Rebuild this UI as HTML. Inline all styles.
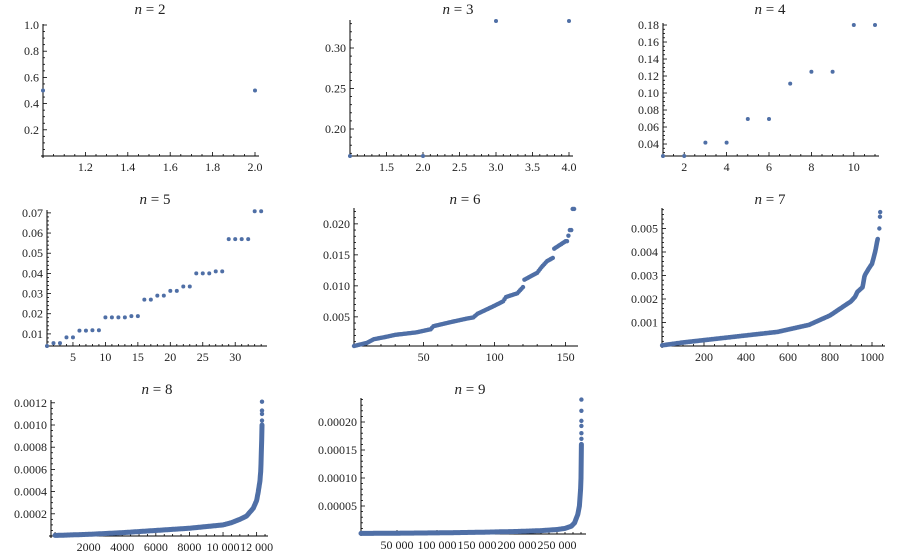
<!DOCTYPE html>
<html><head><meta charset="utf-8"><style>
html,body{margin:0;padding:0;background:#fff;}
svg{display:block;}
</style></head><body>
<svg id="s" width="900" height="557" xmlns="http://www.w3.org/2000/svg" font-family="Liberation Serif, Times New Roman, serif"></svg>
<script>
const S=document.getElementById('s');let h='';
const C='#4f6fa6';
const F='font-family="Liberation Serif, serif" fill="#222"';
function interp(pts,x){for(let i=0;i<pts.length-1;i++){if(x<=pts[i+1][0]){const a=pts[i],b=pts[i+1];const t=(x-a[0])/(b[0]-a[0]);return a[1]+t*(b[1]-a[1]);}}return pts[pts.length-1][1];}
function panel(p){
 const X=v=>p.ox+(v-p.xmin)*p.xs, Y=v=>p.by-(v-p.ymin)*p.ys;
 h+=`<text ${F} x="${p.tx}" y="${p.ty}" font-size="15" text-anchor="middle"><tspan font-style="italic">n</tspan> = ${p.n}</text>`;
 h+=`<line x1="${p.ox-2}" y1="${p.by}" x2="${p.xend}" y2="${p.by}" stroke="#000" stroke-width="1"/>`;
 h+=`<line x1="${p.ox}" y1="${p.by+2}" x2="${p.ox}" y2="${p.ytop}" stroke="#000" stroke-width="1"/>`;
 const xm=p.xstep/p.xminor;
 for(let v=Math.ceil(p.xmin/xm)*xm;X(v)<=p.xend;v+=xm){const px=X(v);if(px<p.ox+1)continue;
   const major=Math.abs(v/p.xstep-Math.round(v/p.xstep))<1e-6;
   h+=`<line x1="${px}" y1="${p.by}" x2="${px}" y2="${p.by-(major?4:2)}" stroke="#000" stroke-width="0.8"/>`;}
 p.xl.forEach(l=>{h+=`<text ${F} x="${X(l[0])}" y="${p.by+15}" font-size="12" text-anchor="middle">${l[1]}</text>`;});
 const ym=p.ystep/p.yminor;
 for(let v=Math.ceil(p.ymin/ym)*ym;Y(v)>=p.ytop;v+=ym){const py=Y(v);if(py>p.by-1)continue;
   const major=Math.abs(v/p.ystep-Math.round(v/p.ystep))<1e-6;
   h+=`<line x1="${p.ox}" y1="${py}" x2="${p.ox+(major?4:2)}" y2="${py}" stroke="#000" stroke-width="0.8"/>`;}
 p.yl.forEach(l=>{h+=`<text ${F} x="${p.ox-4}" y="${Y(l[0])+4}" font-size="12" text-anchor="end">${l[1]}</text>`;});
 if(p.curve){let d='';for(let i=p.curve[0][0];i<=p.cmax;i+=p.cstep){d+=(d?'L':'M')+X(i).toFixed(1)+','+Y(interp(p.curve,i)).toFixed(1);}
   h+=`<path d="${d}" fill="none" stroke="${C}" stroke-width="${p.cw}" stroke-linecap="round" stroke-linejoin="round"/>`;}
 if(p.pts){p.pts.forEach(q=>{h+=`<circle cx="${X(q[0])}" cy="${Y(q[1])}" r="${p.r||2}" fill="${C}"/>`;});}
}
panel({n:2,tx:150,ty:14,ox:43,by:156,xmin:1,xs:212,ymin:0,ys:131,xend:259,ytop:24,xstep:0.2,xminor:4,ystep:0.2,yminor:4,
 xl:[[1.2,'1.2'],[1.4,'1.4'],[1.6,'1.6'],[1.8,'1.8'],[2,'2.0']],yl:[[0.2,'0.2'],[0.4,'0.4'],[0.6,'0.6'],[0.8,'0.8'],[1,'1.0']],
 pts:[[1,0.5],[2,0.5]]});
panel({n:3,tx:458,ty:14,ox:350,by:156,xmin:1,xs:73,ymin:1/6,ys:810,xend:573,ytop:20,xstep:0.5,xminor:5,ystep:0.05,yminor:5,
 xl:[[1.5,'1.5'],[2,'2.0'],[2.5,'2.5'],[3,'3.0'],[3.5,'3.5'],[4,'4.0']],yl:[[0.2,'0.20'],[0.25,'0.25'],[0.3,'0.30']],
 pts:[[1,1/6],[2,1/6],[3,1/3],[4,1/3]]});
panel({n:4,tx:770,ty:14,ox:663,by:156,xmin:1,xs:21.2,ymin:0.0259,ys:850,xend:879,ytop:23,xstep:2,xminor:4,ystep:0.02,yminor:4,
 xl:[[2,'2'],[4,'4'],[6,'6'],[8,'8'],[10,'10']],yl:[[0.04,'0.04'],[0.06,'0.06'],[0.08,'0.08'],[0.1,'0.10'],[0.12,'0.12'],[0.14,'0.14'],[0.16,'0.16'],[0.18,'0.18']],
 pts:[[1,0.0259],[2,0.0259],[3,0.0417],[4,0.0417],[5,0.0694],[6,0.0694],[7,0.111],[8,0.125],[9,0.125],[10,0.18],[11,0.18]]});
const v5=[0.004,0.0054,0.0054,0.0083,0.0083,0.0116,0.0116,0.0118,0.0118,0.0182,0.0182,0.0182,0.0182,0.0188,0.0188,0.027,0.027,0.029,0.029,0.0313,0.0313,0.0335,0.0335,0.040,0.040,0.040,0.041,0.041,0.057,0.057,0.057,0.057,0.0708,0.0708];
panel({n:5,tx:155,ty:204,ox:47,by:346,xmin:1,xs:6.49,ymin:0.004,ys:2017,xend:267,ytop:210,xstep:5,xminor:5,ystep:0.01,yminor:5,
 xl:[[5,'5'],[10,'10'],[15,'15'],[20,'20'],[25,'25'],[30,'30']],yl:[[0.01,'0.01'],[0.02,'0.02'],[0.03,'0.03'],[0.04,'0.04'],[0.05,'0.05'],[0.06,'0.06'],[0.07,'0.07']],
 pts:v5.map((v,i)=>[i+1,v])});
const c6=[[1,0.0003],[10,0.0008],[15,0.0014],[22,0.0017],[30,0.0021],[45,0.0025],[55,0.0030],[57,0.0035],[70,0.0042],[80,0.0047],[85,0.0049],[88,0.0055],[100,0.0068],[106,0.0075],[108,0.0082],[116,0.0088],[120,0.0098],[121,0.011],[130,0.0121],[133,0.013],[137,0.014],[141,0.0145],[142,0.016],[150,0.0172],[151,0.0172],[153,0.019],[154,0.019],[155,0.0224],[156,0.0224]];
const p6=[];for(let i=1;i<=156;i++)p6.push([i,interp(c6,i)]);
panel({n:6,tx:465,ty:204,ox:354,by:346,xmin:1,xs:1.42,ymin:0.0003,ys:6200,xend:578,ytop:208,xstep:50,xminor:5,ystep:0.005,yminor:5,
 xl:[[50,'50'],[100,'100'],[150,'150']],yl:[[0.005,'0.005'],[0.01,'0.010'],[0.015,'0.015'],[0.02,'0.020']],pts:p6,r:2.2});
const c7=[[1,0.00003],[100,0.00015],[200,0.00025],[300,0.00035],[400,0.00045],[500,0.00055],[550,0.0006],[600,0.0007],[650,0.0008],[700,0.0009],[750,0.0011],[800,0.0013],[850,0.0016],[900,0.0019],[920,0.0021],[930,0.0023],[955,0.0025],[965,0.003],[985,0.0033],[1000,0.0035],[1015,0.004],[1028,0.0046]];
panel({n:7,tx:770,ty:204,ox:662,by:346,xmin:0,xs:0.21,ymin:0,ys:23500,xend:885,ytop:208,xstep:200,xminor:4,ystep:0.001,yminor:5,
 xl:[[200,'200'],[400,'400'],[600,'600'],[800,'800'],[1000,'1000']],yl:[[0.001,'0.001'],[0.002,'0.002'],[0.003,'0.003'],[0.004,'0.004'],[0.005,'0.005']],
 curve:c7,cmax:1028,cstep:3,cw:4.6,pts:[[1035,0.005],[1038,0.0055],[1039,0.0057]],r:2.2});
const c8=[[0,0.000005],[2000,0.000015],[4000,0.00003],[6000,0.00005],[8000,0.00007],[9000,0.000085],[10000,0.0001],[10500,0.00012],[11000,0.00015],[11400,0.00018],[11800,0.00025],[12000,0.00032],[12100,0.0004],[12200,0.0005],[12250,0.0006],[12290,0.0008],[12320,0.001]];
panel({n:8,tx:157,ty:394,ox:51,by:536,xmin:-240,xs:0.0168,ymin:0,ys:111000,xend:268,ytop:400,xstep:2000,xminor:4,ystep:0.0002,yminor:4,
 xl:[[2000,'2000'],[4000,'4000'],[6000,'6000'],[8000,'8000'],[10000,'10 000'],[12000,'12 000']],yl:[[0.0002,'0.0002'],[0.0004,'0.0004'],[0.0006,'0.0006'],[0.0008,'0.0008'],[0.001,'0.0010'],[0.0012,'0.0012']],
 curve:c8,cmax:12320,cstep:20,cw:5,pts:[[12320,0.00104],[12320,0.0011],[12320,0.00113],[12320,0.00121]],r:2.2});
const c9=[[5000,0.000001],[100000,0.000002],[150000,0.000003],[200000,0.0000045],[230000,0.000006],[250000,0.000008],[260000,0.00001],[268000,0.000014],[272000,0.00002],[276000,0.000035],[278000,0.00005],[279500,0.00008],[280000,0.0001],[280500,0.00016]];
panel({n:9,tx:470,ty:394,ox:361,by:534,xmin:5000,xs:0.0008,ymin:0,ys:560000,xend:586,ytop:398,xstep:50000,xminor:5,ystep:0.00005,yminor:5,
 xl:[[50000,'50 000'],[100000,'100 000'],[150000,'150 000'],[200000,'200 000'],[250000,'250 000']],yl:[[0.00005,'0.00005'],[0.0001,'0.00010'],[0.00015,'0.00015'],[0.0002,'0.00020']],
 curve:c9,cmax:280500,cstep:500,cw:5,pts:[[280500,0.00017],[280500,0.00018],[280500,0.000193],[280500,0.000202],[280500,0.00022],[280500,0.00024]],r:2.2});
S.innerHTML=h;
</script>
</body></html>
